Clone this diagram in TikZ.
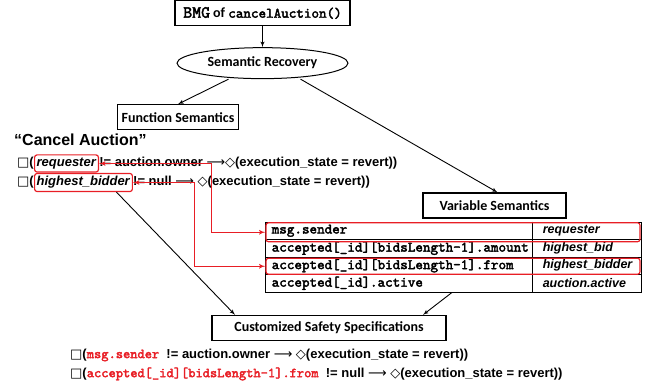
\documentclass[tikz,border=0pt]{standalone}
\usepackage{amsmath}
\usepackage{amssymb}
\usepackage{fontspec}
\setmainfont{Liberation Sans}
\setmonofont{lmmono10-regular.otf}[AutoFakeBold=2.5]
\newfontfamily\calibfont{Carlito}
\newfontfamily\symfont{DejaVu Sans}
\usepackage{tikz}
\usetikzlibrary{arrows,positioning,shapes.geometric}
\definecolor{markred}{RGB}{232,30,37}
\newcommand{\alwaysop}{{\symfont\mdseries □}}
\newcommand{\eventop}{{\symfont\mdseries ◇}}
\newcommand{\thenop}{{\symfont\mdseries ⟶}}

\begin{document}
\begin{tikzpicture}[
		x=1pt, y=-1pt,
		>=latex',
		font=\bfseries\fontsize{13}{15}\selectfont,
		block/.style={
			rectangle,
			draw=black,
			line width=1.3pt,
			text centered,
			inner sep=0pt,
			minimum height=25pt,
			font=\calibfont\bfseries\fontsize{14}{16}\selectfont
		},
		recover/.style={
			ellipse,
			draw=black,
			line width=1pt,
			inner sep=0pt,
			minimum width=171pt,
			minimum height=31pt,
			font=\calibfont\bfseries\fontsize{14}{16}\selectfont
		},
		rule/.style={
			inner sep=0pt,
			anchor=west
		},
		hilite/.style={
			draw=markred,
			rounded corners=2.5pt,
			line width=1.2pt,
			inner xsep=2pt,
			inner ysep=3pt
		},
		tabrow/.style={
			draw=black,
			line width=0.9pt,
			minimum width=376pt,
			minimum height=17.5pt,
			inner sep=0pt
		},
		varcell/.style={
			font=\ttfamily\bfseries\fontsize{14.4}{16}\selectfont,
			inner sep=0pt,
			anchor=west
		},
		semcell/.style={
			font=\bfseries\itshape\fontsize{12.5}{14}\selectfont,
			inner sep=0pt,
			anchor=west
		},
		link/.style={
			draw,
			line width=0.9pt,
			->
		},
		redlink/.style={
			draw=markred,
			line width=1.2pt,
			<->
		}
		]
		\useasboundingbox (0,0) rectangle (655,387);
		
		% We start by placing the blocks
		\node [block, minimum width=175pt] (bmg) at (262.5,13)
		{{\ttfamily\fontsize{17}{17}\selectfont BMG} of {\ttfamily\fontsize{14.4}{16}\selectfont cancelAuction()}};
		
		\node [recover, below=21pt of bmg] (recovery) {Semantic Recovery};
		
		\node [block, minimum width=121pt, below=25pt of recovery, xshift=-84.5pt] (funcsem) {Function Semantics};
		
		\node [block, minimum width=143pt] (varsem) at (494.5,205.5) {Variable Semantics};
		
		\node [block, minimum width=234pt] (custom) at (329,328) {Customized Safety Specifications};
		
		% function semantics
		\node [rule, font=\bfseries\fontsize{16}{18}\selectfont] (title) at (14,140) {“Cancel Auction”};
		
		\node [rule] (pre1) at (17,163) {\alwaysop(};
		\node [hilite, base right=0pt of pre1] (req) {\textit{requester}};
		\node [rule, base right=0pt of req] (post1)
		{!= auction.owner \thenop\eventop(execution\_state = revert))};
		
		\node [rule] (pre2) at (17,182.5) {\alwaysop(};
		\node [hilite, base right=0pt of pre2] (hb) {\textit{highest\_bidder}};
		\node [rule, base right=0pt of hb] (post2)
		{!= null \thenop\ \eventop(execution\_state = revert))};
		
		% variable semantics table
		\foreach \i/\vname/\sname in {1/msg.sender/requester,
			2/{accepted[\_id][bidsLength-1].amount}/highest\_bid,
			3/{accepted[\_id][bidsLength-1].from}/highest\_bidder,
			4/{accepted[\_id].active}/auction.active}
		{
			\node [tabrow] (row\i) at (453,{213.25+17.5*\i}) {};
			\node [varcell] at ([xshift=7pt]row\i.west) {\vname};
			\node [semcell] at ([xshift=278pt]row\i.west) {\sname};
		}
		\draw [line width=0.9pt] ([xshift=268pt]row1.north west) -- ([xshift=268pt]row4.south west);
		
		\node [hilite, minimum width=374pt, minimum height=19pt, inner sep=0pt] (sel1) at ([yshift=-1.5pt]row1) {};
		\node [hilite, minimum width=374pt, minimum height=16pt, inner sep=0pt] (sel3) at ([yshift=-0.5pt]row3) {};
		
		% customized specifications
		\node [rule] (spec1) at (70,355)
		{\alwaysop(\textcolor{markred}{\fontsize{13.8}{15}\selectfont\ttfamily msg.sender}\ \ != auction.owner \thenop\ \eventop(execution\_state = revert))};
		\node [rule] (spec2) at (70,374)
		{\alwaysop(\textcolor{markred}{\fontsize{13.8}{15}\selectfont\ttfamily accepted[\_id][bidsLength-1].from}\ \ != null \thenop\ \eventop(execution\_state = revert))};
		
		% connectors
		\draw [link] (bmg) -- (recovery);
		\draw [link] ([xshift=-34pt]recovery.south) -- (funcsem.north);
		\draw [link] ([xshift=38pt]recovery.south) -- ([xshift=3pt]varsem.north);
		\draw [link] ([xshift=33pt]hb.south) -- ([xshift=-94pt]custom.north);
		\draw [link] ([xshift=-1pt]row4.south) -- ([xshift=94pt]custom.north);
		
		\draw [redlink] (req.east) -| ([xshift=-54pt]sel1.west) -- (sel1.west);
		\draw [redlink] (hb.east) -| ([xshift=-71pt]sel3.west) -- (sel3.west);
		
	\end{tikzpicture}
\end{document}
